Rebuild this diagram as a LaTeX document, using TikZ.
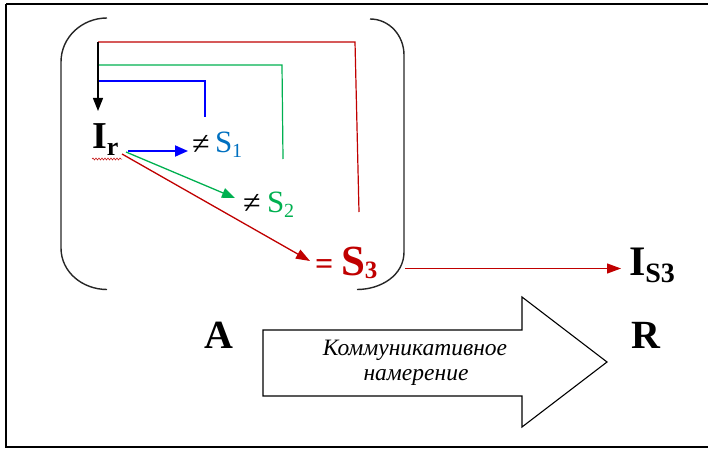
\documentclass[tikz,border=0pt]{standalone}
\usepackage{fontspec}
\setmainfont{Liberation Serif}
\usetikzlibrary{arrows.meta,decorations.pathmorphing}
\definecolor{dred}{RGB}{192,0,0}
\definecolor{dgreen}{RGB}{0,176,80}
\definecolor{sblue}{RGB}{0,112,192}
\newcommand{\fs}[1]{\fontsize{#1}{#1}\selectfont}
\begin{document}
\begin{tikzpicture}[x=1pt,y=-1pt,
  txt/.style={anchor=base west,inner sep=0pt,outer sep=0pt},
  ctxt/.style={anchor=base,inner sep=0pt,outer sep=0pt,font=\itshape\fs{23.5}},
  bracket/.style={line width=1.4pt,black!85},
  redline/.style={dred,line width=1.2pt},
  ]
\useasboundingbox (0,0) rectangle (708,449);
\draw[line width=2pt] (6,3.8) -- (720,3.8);
\draw[line width=2pt] (6,3.8) -- (6,446.5) -- (720,446.5);
% brackets
\draw[bracket] (107,18) to[out=180,in=90] (61,62) -- (61,248) to[out=-90,in=180] (107,289.5);
\draw[bracket] (370,19) to[out=0,in=90] (404,55) -- (404,252) to[out=-90,in=0] (357,289.5);
% text nodes
\node[txt] (Ir) at (92,149) {\bfseries\fs{38}I\raisebox{-6pt}{\fs{26}r}};
\draw[dred,line width=0.5pt,decorate,decoration={snake,amplitude=1pt,segment length=3pt}] (92,159) -- (122,159);
\node[txt] (ne1) at (192,154) {\fs{32}≠};
\node[txt,sblue] (s1) at (215,153) {\fs{31}S\raisebox{-5pt}{\fs{20}1}};
\node[txt] (ne2) at (243,213) {\fs{32}≠};
\node[txt,dgreen] (s2) at (267,212) {\fs{31}S\raisebox{-5pt}{\fs{20}2}};
\node[txt,dred] (eq3) at (315,274) {\bfseries\fs{32}=};
\node[txt,dred] (s3) at (341,275) {\bfseries\fs{43}S\raisebox{-3pt}{\fs{25}3}};
\node[txt] (is3) at (629,275) {\bfseries\fs{42}I\raisebox{-7pt}{\fs{28}S3}};
\node[txt] (A) at (204,348) {\bfseries\fs{40}A};
\node[txt] (R) at (631,348) {\bfseries\fs{40}R};
% connector end points
\coordinate (top) at (98,42);
\coordinate (irtop) at (98,111);
\coordinate (redc) at (355,42);
\coordinate (rede) at (359,212);
\coordinate (grn0) at (98,65);
\coordinate (grnc) at (282,65);
\coordinate (grne) at (283,159);
\coordinate (blu0) at (98,81);
\coordinate (bluc) at (205,81);
\coordinate (blue) at (205,117);
\coordinate (b1) at (128,151);
\coordinate (b2) at (188,151);
\coordinate (g1) at (126,152);
\coordinate (g2) at (235,198);
\coordinate (r1) at (122,154);
\coordinate (r2) at (310,261);
\coordinate (h1) at (405,268.5);
\coordinate (h2) at (621,268.5);
% feedback lines
\draw[redline] (top) -- (redc) -- (rede);
\draw[dgreen,line width=1.2pt] (grn0) -- (grnc) -- (grne);
\draw[blue,line width=1.4pt] (blu0) -- (bluc) -- (blue);
\draw[line width=1.3pt,-{Triangle[length=13pt,width=10pt]}] (top) -- (irtop);
% arrows from Ir
\draw[blue,line width=1.8pt,-{Triangle[length=13pt,width=11pt]}] (b1) -- (b2);
\draw[dgreen,line width=1.3pt,-{Triangle[length=13pt,width=10pt]}] (g1) -- (g2);
\draw[dred,line width=1.3pt,-{Triangle[length=14pt,width=10pt]}] (r1) -- (r2);
\draw[redline,-{Triangle[length=14pt,width=10pt]}] (h1) -- (h2);
% big arrow
\draw[line width=1.1pt] (263,330) -- (522,330) -- (522,297) -- (607,362) -- (522,427) -- (522,396) -- (263,396) -- cycle;
\node[ctxt] (intent1) at (415,355) {Коммуникативное};
\node[ctxt] (intent2) at (416,380) {намерение};
\end{tikzpicture}
\end{document}
